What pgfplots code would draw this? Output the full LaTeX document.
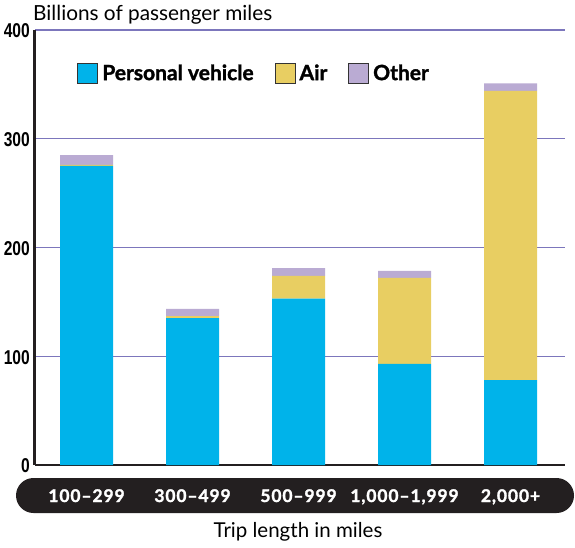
\documentclass[border=0pt]{standalone}
\usepackage{pgfplots}
\pgfplotsset{compat=1.18}
\usepackage{fontspec}
\setmainfont{Lato}
\newfontfamily\condfont{Liberation Sans}[FakeStretch=0.78]
\newfontfamily\heavy{Lato}[FakeBold=1.5]
\newfontfamily\ticklab{Lato}[FakeBold=1.5, LetterSpace=5]
\definecolor{pv}{HTML}{00B3EA}
\definecolor{airc}{HTML}{E8CE62}
\definecolor{othc}{HTML}{BAABD3}
\definecolor{gridc}{HTML}{7C76BC}
\definecolor{bandc}{HTML}{231F20}
\pgfplotsset{sq legend/.style={legend image code/.code={\draw[##1, draw=black!80, line width=0.9pt] (0pt,-10pt) rectangle (20pt,10pt);}}}
\begin{document}
\begin{tikzpicture}[x=1pt,y=1pt]
\useasboundingbox (0,0) rectangle (575,547);
\fill[bandc, rounded corners=17.5pt] (16,34) rectangle (574,69);
\node[anchor=base west, inner sep=0] at (33,526) {\fontsize{20.8}{22}\selectfont Billions of passenger miles};
\node[anchor=base, inner sep=0] at (298,10) {\fontsize{20.5}{22}\selectfont Trip length in miles};
\begin{axis}[
  at={(35pt,82pt)}, anchor=south west,
  scale only axis, width=530pt, height=435pt,
  ybar stacked, bar width=0.5,
  xmin=-0.486, xmax=4.514, ymin=0, ymax=400,
  xtick={0,1,2,3,4},
  xticklabels={100–299,300–499,500–999,{1,000–1,999},{2,000+}},
  ytick={0,100,200,300,400},
  yticklabels={0,100,200,300,400},
  major tick length=0,
  axis x line*=bottom, axis y line*=left,
  x axis line style={line width=1.2pt, color=bandc},
  y axis line style={line width=3pt, color=bandc},
  ymajorgrids, grid style={gridc, line width=1.3pt},
  xticklabel style={anchor=base, yshift=-37pt, text=white, inner sep=0pt,
    font=\ticklab\bfseries\fontsize{17.5}{20}\selectfont},
  yticklabel style={anchor=east, xshift=-5pt, yshift=-1pt, inner sep=0pt,
    font=\condfont\bfseries\fontsize{20}{22}\selectfont},
  legend style={at={(0.074,0.901)}, anchor=west, draw=none, fill=none,
    legend columns=3, font=\heavy\bfseries\fontsize{21}{23}\selectfont,
    /tikz/every even column/.append style={column sep=17pt},
    nodes={inner xsep=4pt, inner ysep=0pt}},
  clip=false,
]
\addplot[fill=pv, draw=none, sq legend] coordinates {(0,275) (1,135) (2,153) (3,93) (4,78)};
\addplot[fill=airc, draw=none, sq legend] coordinates {(0,1) (1,2) (2,21) (3,79) (4,266)};
\addplot[fill=othc, draw=none, sq legend] coordinates {(0,9) (1,6.5) (2,7) (3,6.5) (4,7)};
\legend{Personal vehicle, Air, Other}
\end{axis}
\end{tikzpicture}
\end{document}
